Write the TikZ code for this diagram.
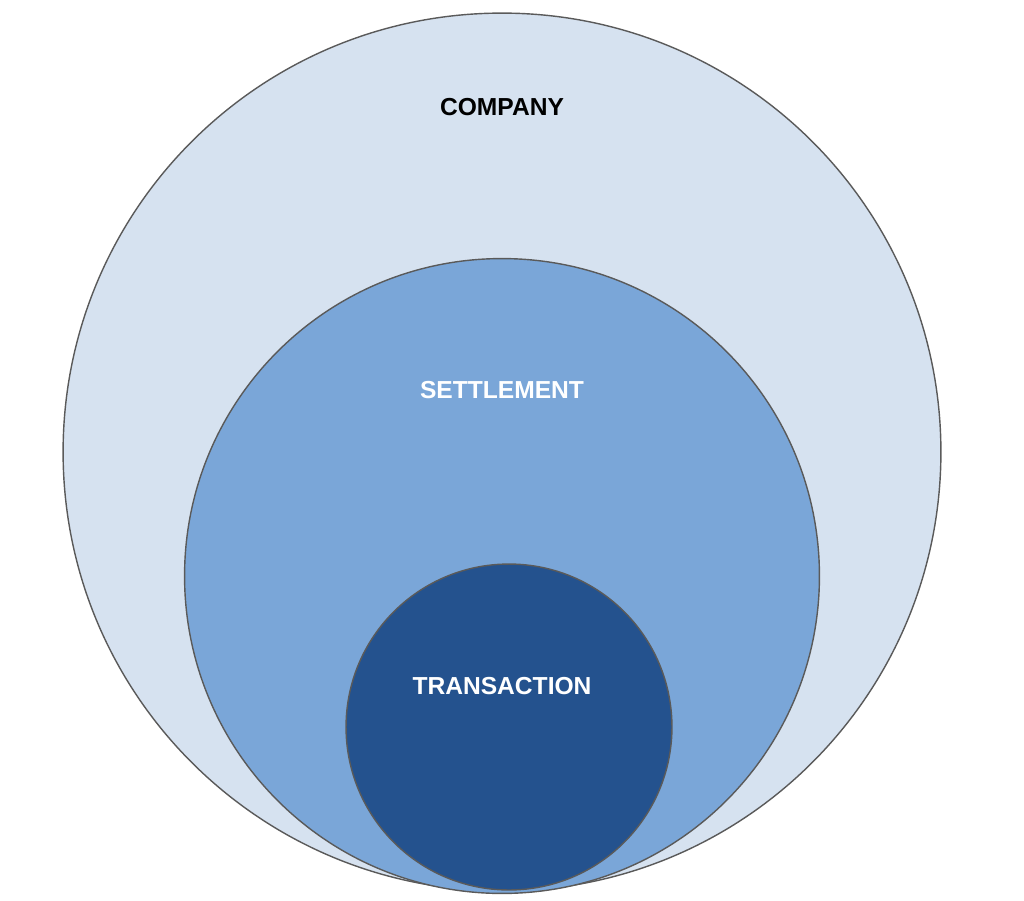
\documentclass[tikz,border=0pt]{standalone}
\usepackage{fontspec}
\setmainfont{Liberation Sans}
\usepackage{tikz}
\usetikzlibrary{positioning}
\definecolor{lblue}{RGB}{214,226,240}
\definecolor{mblue}{RGB}{122,166,216}
\definecolor{dblue}{RGB}{36,82,142}
\definecolor{rimgray}{RGB}{90,90,90}
\tikzset{
    ring/.style={circle, draw=rimgray, line width=0.8pt, inner sep=0pt},
    lbl/.style={font=\fontsize{14}{16}\selectfont\bfseries, align=center},
}
\begin{document}
\begin{tikzpicture}[x=0.02cm, y=-0.02cm]
\useasboundingbox (0,0) rectangle (1024,900);

% Circles, outermost first
\node[ring, fill=lblue, minimum size=17.56cm] (company) at (502,452) {};
\node[ring, fill=mblue, minimum size=12.7cm] (settle) at (502,576) {};
\node[ring, fill=dblue, minimum size=6.52cm] (trans) at (509,727) {};

% Labels
\node[lbl, text=black] (companylbl) at (502,107) {COMPANY};
\node[lbl, text=white] (settlelbl) at (502,390) {SETTLEMENT};
\node[lbl, text=white] (translbl) at (502,686) {TRANSACTION};

\end{tikzpicture}
\end{document}
